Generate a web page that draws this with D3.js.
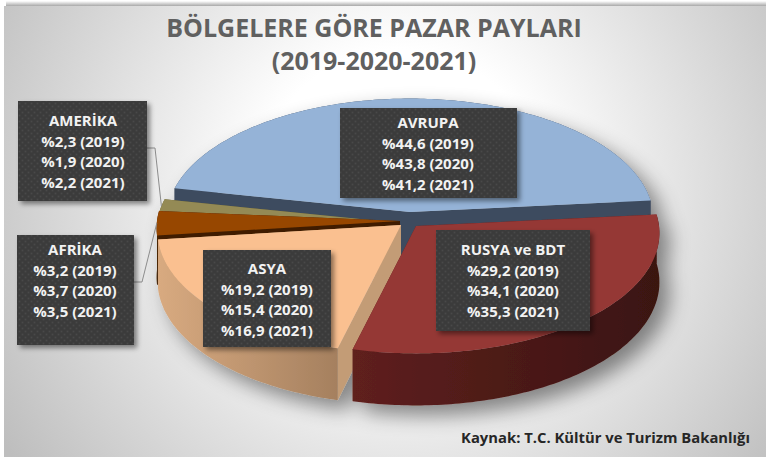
<!DOCTYPE html>
<html>
<head>
<meta charset="utf-8">
<script src="https://cdn.jsdelivr.net/npm/d3@7"></script>
<style>
  html, body { margin: 0; padding: 0; background: #fff; }
  svg { display: block; font-family: "Open Sans", sans-serif; }
</style>
</head>
<body>
<svg width="766" height="459"></svg>
<script>
// Data
const regions = ["AVRUPA", "RUSYA ve BDT", "ASYA", "AFRİKA", "AMERİKA"]
const share2019 = ["44,6", "29,2", "19,2", "3,2", "2,3"]
const share2020 = ["43,8", "34,1", "15,4", "3,7", "1,9"]
const share2021 = ["41,2", "35,3", "16,9", "3,5", "2,2"]
const years = ["2019", "2020", "2021"]
const titleLines = ["BÖLGELERE GÖRE PAZAR PAYLARI", "(2019-2020-2021)"]
const sourceText = "Kaynak: T.C. Kültür ve Turizm Bakanlığı"

// Slice look, same order as regions
const topColors = ["#95b3d7", "#953735", "#fac090", "#974706", "#948a54"]
const wallLeft = ["#3d4b5e", "#5f201e", "#d8aa80", "#4a2402", "#6d6638"]
const wallRight = ["#3d4b5e", "#3a1411", "#a5805f", "#4a2402", "#6d6638"]
const cutColors = ["#3d4b5e", "#5f201e", "#c39c76", "#3f1e01", "#5c5630"]
const explode = [[0, 0], [6, 14], [-9, 13], [-10, 9], [-10, 11]]
// The 3D view bends the slice edges a little, degrees added to each slice's end edge
const edgeBend = [0, 3, 1.7, 1.7, 0]
// Draw order, back to front
const drawOrder = [0, 4, 3, 2, 1]

// Label boxes: x, y, w, h, center x, first line y
const boxes = [
  [340, 108, 177, 90, 428, 128],
  [436, 230, 154, 101, 513, 255],
  [203, 250, 128, 97, 267, 274],
  [17, 235, 117, 110, 75, 255],
  [18, 101, 129, 100, 83, 126]
]

const svg = d3.select("svg"),
    width = +svg.attr("width"),
    height = +svg.attr("height")

const defs = svg.append("defs")

// Background gradient
const bg = defs.append("radialGradient").attr("id", "bg")
    .attr("gradientUnits", "userSpaceOnUse")
    .attr("cx", 400).attr("cy", 190).attr("r", 470)
bg.append("stop").attr("offset", "0.3").attr("stop-color", "#ffffff")
bg.append("stop").attr("offset", "1").attr("stop-color", "#bebebe")

const topBand = defs.append("linearGradient").attr("id", "band")
    .attr("x1", 0).attr("x2", 0).attr("y1", 0).attr("y2", 1)
topBand.append("stop").attr("offset", "0").attr("stop-color", "#ffffff")
topBand.append("stop").attr("offset", "1").attr("stop-color", "#a8a8a8")

// Dotted fill of the label boxes
const dots = defs.append("pattern").attr("id", "dots")
    .attr("width", 6).attr("height", 6)
    .attr("patternUnits", "userSpaceOnUse")
dots.append("rect").attr("width", 6).attr("height", 6).attr("fill", "#3a3a3a")
dots.append("circle").attr("cx", 1.5).attr("cy", 1.5).attr("r", 1).attr("fill", "#4a4a4a")
dots.append("circle").attr("cx", 4.5).attr("cy", 4.5).attr("r", 1).attr("fill", "#4a4a4a")

const pieShadow = defs.append("filter").attr("id", "pieShadow")
    .attr("x", "-20%").attr("y", "-20%").attr("width", "140%").attr("height", "140%")
pieShadow.append("feDropShadow")
    .attr("dx", 10).attr("dy", 10).attr("stdDeviation", 10)
    .attr("flood-color", "#000").attr("flood-opacity", 0.45)

const boxShadow = defs.append("filter").attr("id", "boxShadow")
    .attr("x", "-20%").attr("y", "-20%").attr("width", "140%").attr("height", "140%")
boxShadow.append("feDropShadow")
    .attr("dx", 3).attr("dy", 3).attr("stdDeviation", 2.5)
    .attr("flood-color", "#000").attr("flood-opacity", 0.45)

svg.append("rect").attr("x", 4).attr("y", 6).attr("width", width - 4).attr("height", height - 8)
    .attr("fill", "url(#bg)")
svg.append("rect").attr("x", 6).attr("y", 1).attr("width", width - 6).attr("height", 5)
    .attr("fill", "url(#band)")

// Title and source
svg.selectAll("text.title")
    .data(titleLines)
    .join("text")
    .attr("class", "title")
    .attr("x", 374)
    .attr("y", (d, i) => 37 + i * 33)
    .attr("text-anchor", "middle")
    .attr("font-size", 25)
    .attr("font-weight", 700)
    .attr("fill", "#606060")
    .text(d => d)

svg.append("text")
    .attr("x", 750).attr("y", 443)
    .attr("text-anchor", "end")
    .attr("font-size", 14.8)
    .attr("font-weight", 700)
    .attr("fill", "#262626")
    .text(sourceText)

// Pie. The picture is sized by the 2019 shares
const deg = Math.PI / 180
const pie = d3.pie()
    .sort(null)
    .value(d => d)
    .startAngle(-78.5 * deg)
    .endAngle(281.5 * deg)
const arcs = pie(share2019.map(s => +s.replace(",", ".")))
arcs.forEach((a, i) => {
  a.endAngle += edgeBend[i] * deg
  if (i > 0) a.startAngle += edgeBend[i - 1] * deg
})

// Tilted disc with a little perspective, front looks bigger
const cx = 410, cy = 212, rx = 243, ry = 120, persp = 0.058, depth = 49
function project(angle, r, z, off) {
  const X = Math.sin(angle) * r
  const Y = -Math.cos(angle) * r
  const s = 1 / (1 - persp * Y)
  return [cx + off[0] + rx * X * s, cy + off[1] + ry * Y * s + z * depth * s]
}

const line = d3.line()

function anglesOf(a) {
  const n = Math.ceil((a.endAngle - a.startAngle) * 60)
  return d3.range(n + 1).map(i => a.startAngle + (a.endAngle - a.startAngle) * i / n)
}

function wallGradient(i) {
  const id = "wall" + i
  const g = defs.append("linearGradient").attr("id", id)
  g.append("stop").attr("offset", "0").attr("stop-color", wallLeft[i])
  g.append("stop").attr("offset", "1").attr("stop-color", wallRight[i])
  return "url(#" + id + ")"
}

const pieG = svg.append("g").attr("filter", "url(#pieShadow)")

drawOrder.forEach(i => {
  const a = arcs[i], off = explode[i]
  const g = pieG.append("g")
  const rim = anglesOf(a)

  // Cut faces
  ;[a.startAngle, a.endAngle].forEach(ang => {
    g.append("path")
      .attr("fill", cutColors[i])
      .attr("d", line([
        project(ang, 0, 0, off), project(ang, 1, 0, off),
        project(ang, 1, 1, off), project(ang, 0, 1, off)
      ]) + "Z")
  })

  // Outer wall
  g.append("path")
    .attr("fill", wallGradient(i))
    .attr("d", line(rim.map(t => project(t, 1, 0, off))
      .concat(rim.slice().reverse().map(t => project(t, 1, 1, off)))) + "Z")

  // Top
  g.append("path")
    .attr("fill", topColors[i])
    .attr("d", line([project(0, 0, 0, off)].concat(rim.map(t => project(t, 1, 0, off)))) + "Z")
})

// Leader lines for the two small slices
const leader = d3.line()
function leaderPath(i, boxY) {
  const b = boxes[i], a = arcs[i]
  const tip = project((a.startAngle + a.endAngle) / 2, 1, 0, explode[i])
  return leader([[b[0] + b[2], boxY], [b[0] + b[2] + 8, boxY], tip])
}
svg.append("path").attr("d", leaderPath(3, 282)).attr("fill", "none").attr("stroke", "#8c8c8c")
svg.append("path").attr("d", leaderPath(4, 148)).attr("fill", "none").attr("stroke", "#8c8c8c")

// Label boxes
regions.forEach((name, i) => {
  const b = boxes[i]
  const g = svg.append("g")
  g.append("rect")
    .attr("x", b[0]).attr("y", b[1]).attr("width", b[2]).attr("height", b[3])
    .attr("fill", "url(#dots)")
    .attr("filter", "url(#boxShadow)")
  const lines = [name,
    "%" + share2019[i] + " (" + years[0] + ")",
    "%" + share2020[i] + " (" + years[1] + ")",
    "%" + share2021[i] + " (" + years[2] + ")"]
  g.selectAll("text")
    .data(lines)
    .join("text")
    .attr("x", b[4])
    .attr("y", (d, k) => b[5] + k * 20.5)
    .attr("text-anchor", "middle")
    .attr("font-size", 15)
    .attr("font-weight", 700)
    .attr("fill", "#f2f2f2")
    .text(d => d)
})
</script>
</body>
</html>
